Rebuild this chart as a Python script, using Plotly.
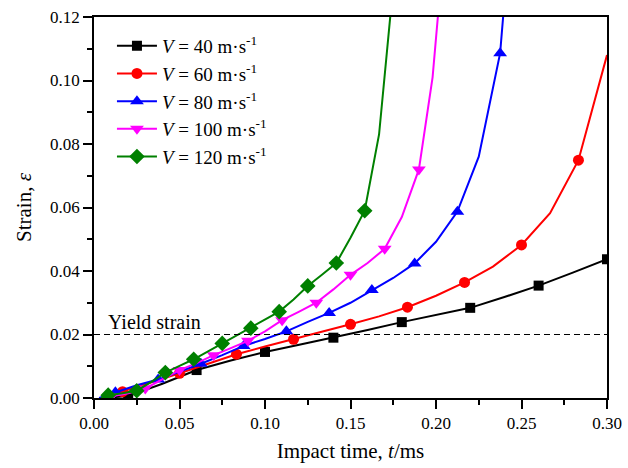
import plotly.graph_objects as go

# Impact time (ms) and strain for each impact velocity
t40 = [0.005, 0.02, 0.04, 0.06, 0.08, 0.10, 0.12, 0.14, 0.16, 0.18, 0.20, 0.22, 0.24, 0.26, 0.28, 0.30]
e40 = [0.0, 0.0006, 0.0045, 0.0088, 0.0118, 0.0145, 0.0168, 0.0190, 0.0214, 0.0239, 0.0261, 0.0284, 0.0318, 0.0354, 0.0395, 0.0437]

t60 = [0.005, 0.0167, 0.0333, 0.05, 0.0667, 0.0833, 0.1, 0.1167, 0.1333, 0.15, 0.1667, 0.1833, 0.2,
       0.2167, 0.2333, 0.25, 0.2667, 0.2833, 0.30]
e60 = [0.0, 0.002, 0.0048, 0.0078, 0.0108, 0.0138, 0.0162, 0.0185, 0.0208, 0.0232, 0.0257, 0.0286, 0.0322,
       0.0364, 0.0414, 0.0482, 0.0582, 0.0749, 0.108]

t80 = [0.003, 0.0125, 0.025, 0.0375, 0.05, 0.0625, 0.075, 0.0875, 0.1, 0.1125, 0.125, 0.1375, 0.15,
       0.1625, 0.175, 0.1875, 0.2, 0.2125, 0.225, 0.2375, 0.25]
e80 = [0.0, 0.0018, 0.004, 0.0058, 0.0082, 0.0108, 0.0135, 0.0164, 0.0186, 0.021, 0.024, 0.0268, 0.030,
       0.034, 0.0378, 0.0424, 0.0492, 0.0587, 0.076, 0.1086, 0.19]

t100 = [0.005, 0.01, 0.02, 0.03, 0.04, 0.05, 0.06, 0.07, 0.08, 0.09, 0.10, 0.11, 0.12, 0.13, 0.14, 0.15,
        0.16, 0.17, 0.18, 0.19, 0.198, 0.21]
e100 = [0.0, 0.0005, 0.0015, 0.003, 0.0058, 0.0088, 0.011, 0.0135, 0.0157, 0.018, 0.021, 0.0245, 0.0272,
        0.030, 0.0342, 0.0388, 0.0425, 0.047, 0.057, 0.072, 0.101, 0.175]

t120 = [0.004, 0.0083, 0.0167, 0.025, 0.0333, 0.0417, 0.05, 0.0583, 0.0667, 0.075, 0.0833, 0.0917, 0.1,
        0.1083, 0.1167, 0.125, 0.1333, 0.1417, 0.15, 0.1583, 0.1667, 0.175]
e120 = [0.0, 0.0009, 0.0015, 0.0023, 0.005, 0.008, 0.0101, 0.0122, 0.0147, 0.0172, 0.0196, 0.022, 0.0245,
        0.0272, 0.031, 0.0353, 0.0388, 0.0425, 0.0505, 0.059, 0.083, 0.13]

velocities = ["40", "60", "80", "100", "120"]
yield_strain = 0.02
x_ticks = [0.00, 0.05, 0.10, 0.15, 0.20, 0.25, 0.30]
y_ticks = [0.00, 0.02, 0.04, 0.06, 0.08, 0.10, 0.12]

series = [
    (t40, e40, "black", "square", 10),
    (t60, e60, "#FF0000", "circle", 11),
    (t80, e80, "#0000FF", "triangle-up", 12),
    (t100, e100, "#FF00FF", "triangle-down", 12),
    (t120, e120, "#008000", "diamond", 12),
]

FONT = "Liberation Serif"
fig = go.Figure()

for (tx, ey, col, sym, ms), v in zip(series, velocities):
    fig.add_trace(go.Scatter(x=tx, y=ey, mode="lines", line=dict(color=col, width=2),
                             showlegend=False, hoverinfo="skip"))
    fig.add_trace(go.Scatter(x=tx[1::2], y=ey[1::2], mode="markers",
                             marker=dict(color=col, symbol=sym, size=ms, line=dict(width=0)),
                             showlegend=False))
    fig.add_trace(go.Scatter(x=[None], y=[None], mode="lines+markers",
                             line=dict(color=col, width=2),
                             marker=dict(color=col, symbol=sym, size=ms),
                             name=f"<i>V</i> = {v} m·s<sup>-1</sup>"))

fig.add_shape(type="line", xref="x", yref="y", x0=0, x1=0.30, y0=yield_strain, y1=yield_strain,
              line=dict(color="black", width=1.2, dash="6px,4px"))
fig.add_annotation(x=0.0072, y=yield_strain, xref="x", yref="y", text="Yield strain",
                   showarrow=False, xanchor="left", yanchor="bottom", yshift=0,
                   font=dict(family=FONT, size=20, color="black"))

axis_common = dict(showgrid=False, zeroline=False, showline=True, linecolor="black", linewidth=1.5,
                   mirror=True, ticks="outside", ticklen=9, tickwidth=1.5, tickcolor="black",
                   automargin=False,
                   tickfont=dict(family=FONT, size=17, color="black"))

fig.update_xaxes(range=[0, 0.30], tickvals=x_ticks, ticktext=[f"{v:.2f}" for v in x_ticks],
                 minor=dict(ticks="outside", ticklen=5, tickwidth=1.5, tickcolor="black", dtick=0.025),
                 title=dict(text="Impact time, <i>t</i>/ms", font=dict(family=FONT, size=21, color="black"),
                            standoff=11),
                 **axis_common)
fig.update_yaxes(range=[0, 0.12], tickvals=y_ticks, ticktext=[f"{v:.2f}" for v in y_ticks],
                 minor=dict(ticks="outside", ticklen=5, tickwidth=1.5, tickcolor="black", dtick=0.01),
                 title=dict(text="Strain, <i>ε</i>", font=dict(family=FONT, size=21, color="black"),
                            standoff=13),
                 **axis_common)

fig.update_layout(
    width=628, height=468,
    margin=dict(l=94, r=21, t=17, b=70),
    paper_bgcolor="white", plot_bgcolor="white",
    font=dict(family=FONT, color="black"),
    legend=dict(x=0.035, y=0.974, xanchor="left", yanchor="top", bgcolor="rgba(0,0,0,0)",
                font=dict(family=FONT, size=19, color="black"), tracegroupgap=0,
                itemwidth=40),
    showlegend=True,
)

fig.write_html("out.html")
